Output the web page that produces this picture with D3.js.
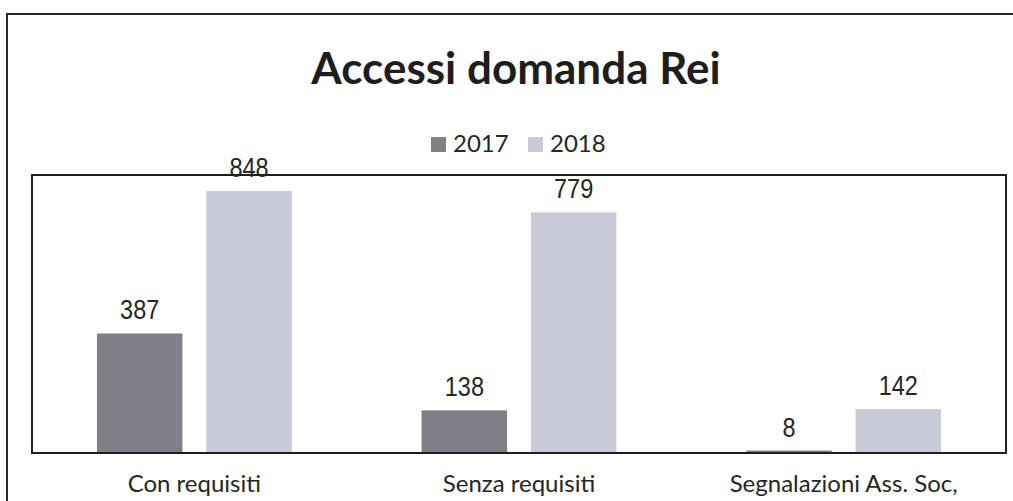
<!DOCTYPE html>
<html>
<head>
<meta charset="utf-8">
<script src="https://cdn.jsdelivr.net/npm/d3@7"></script>
<style>
  html, body { margin: 0; padding: 0; background: #fff; }
  svg { display: block; }
</style>
</head>
<body>
<svg id="chart" width="1013" height="501"></svg>
<script>
// Data
const categories = ["Con requisiti", "Senza requisiti", "Segnalazioni Ass. Soc,"];
const seriesNames = ["2017", "2018"];
const values2017 = [387, 138, 8];
const values2018 = [848, 779, 142];
const yDomain = [0, 900];

const seriesValues = { "2017": values2017, "2018": values2018 };
const colors = { "2017": "#7f8088", "2018": "#cacbd9" };

const svg = d3.select("#chart");
const W = 1013, H = 501;
const plot = { left: 32, right: 1006, top: 175, bottom: 453 };

// Outer chart frame (only left and top edges fall inside the view)
svg.append("path")
  .attr("d", `M7,${H + 2} L7,14 L${W + 2},14`)
  .attr("fill", "none")
  .attr("stroke", "#2a2a2a")
  .attr("stroke-width", 2);

// Title
svg.append("text")
  .attr("x", 516)
  .attr("y", 84)
  .attr("text-anchor", "middle")
  .attr("font-family", "Lato, 'Open Sans', sans-serif")
  .attr("font-weight", "bold")
  .attr("font-size", 44)
  .attr("fill", "#1e1e1e")
  .text("Accessi domanda Rei");

// Legend
const legend = svg.append("g").attr("class", "legend");
const legendX = d3.scaleOrdinal().domain(seriesNames).range([431, 528]);
seriesNames.forEach(name => {
  const g = legend.append("g").attr("transform", `translate(${legendX(name)},0)`);
  g.append("rect")
    .attr("x", 0).attr("y", 137)
    .attr("width", 15).attr("height", 15)
    .attr("fill", colors[name]);
  g.append("text")
    .attr("x", 22).attr("y", 152)
    .attr("font-family", "Lato, 'Open Sans', sans-serif")
    .attr("font-size", 24)
    .attr("fill", "#262626")
    .text(name);
});

// Scales
const x0 = d3.scaleBand()
  .domain(categories)
  .range([plot.left, plot.right])
  .paddingInner(0.4)
  .paddingOuter(0.2);

const x1 = d3.scaleBand()
  .domain(seriesNames)
  .range([0, x0.bandwidth()])
  .paddingInner(0.218)
  .paddingOuter(0);

const y = d3.scaleLinear().domain(yDomain).range([plot.bottom, plot.top]);

// Bars
const groups = svg.append("g").selectAll("g")
  .data(categories)
  .join("g")
  .attr("transform", d => `translate(${x0(d)},0)`);

groups.selectAll("rect")
  .data((c, i) => seriesNames.map(s => ({ s, v: seriesValues[s][i] })))
  .join("rect")
  .attr("x", d => x1(d.s))
  .attr("y", d => y(d.v))
  .attr("width", x1.bandwidth())
  .attr("height", d => y(0) - y(d.v))
  .attr("fill", d => colors[d.s]);

// Plot area border
svg.append("rect")
  .attr("x", plot.left).attr("y", plot.top)
  .attr("width", plot.right - plot.left)
  .attr("height", plot.bottom - plot.top)
  .attr("fill", "none")
  .attr("stroke", "#1f1f1f")
  .attr("stroke-width", 2);

// Value labels (condensed numerals)
groups.selectAll("text.val")
  .data((c, i) => seriesNames.map(s => ({ s, v: seriesValues[s][i] })))
  .join("text")
  .attr("class", "val")
  .attr("transform", d => `translate(${x1(d.s) + x1.bandwidth() / 2},${y(d.v) - 14}) scale(0.84,1)`)
  .attr("text-anchor", "middle")
  .attr("font-family", "'Liberation Sans', Arial, sans-serif")
  .attr("font-size", 28)
  .attr("fill", "#262626")
  .text(d => d.v);

// Category axis labels
const xAxis = d3.axisBottom(x0).tickSize(0).tickPadding(0);
const axisG = svg.append("g")
  .attr("transform", `translate(0,${plot.bottom})`)
  .call(xAxis);
axisG.select(".domain").remove();
axisG.selectAll("text")
  .attr("dy", null)
  .attr("y", 39)
  .attr("font-family", "Lato, 'Open Sans', sans-serif")
  .attr("font-size", 24)
  .attr("fill", "#262626");
</script>
</body>
</html>
